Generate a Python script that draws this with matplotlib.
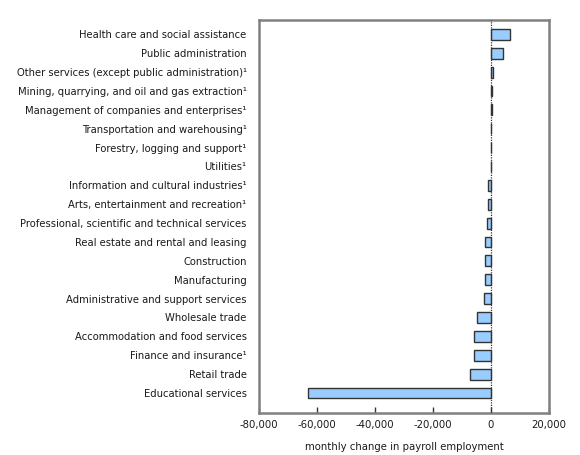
import matplotlib
matplotlib.use("Agg")
import matplotlib.pyplot as plt
from matplotlib.ticker import FuncFormatter

categories = [
    "Health care and social assistance",
    "Public administration",
    "Other services (except public administration)\u00b9",
    "Mining, quarrying, and oil and gas extraction\u00b9",
    "Management of companies and enterprises\u00b9",
    "Transportation and warehousing\u00b9",
    "Forestry, logging and support\u00b9",
    "Utilities\u00b9",
    "Information and cultural industries\u00b9",
    "Arts, entertainment and recreation\u00b9",
    "Professional, scientific and technical services",
    "Real estate and rental and leasing",
    "Construction",
    "Manufacturing",
    "Administrative and support services",
    "Wholesale trade",
    "Accommodation and food services",
    "Finance and insurance\u00b9",
    "Retail trade",
    "Educational services",
]
values = [6700, 4000, 550, 450, 200, 100, 100, -150, -900, -950, -1250,
          -2000, -2000, -2200, -2300, -5000, -5700, -6000, -7100, -63000]
xticks = [-80000, -60000, -40000, -20000, 0, 20000]
xlabel = "monthly change in payroll employment"

plt.rcParams['font.family'] = ['DejaVu Sans']
fig = plt.figure(figsize=(5.8, 4.55), dpi=100)
ax = fig.add_axes([0.4466, 0.0923, 0.5, 0.8637])

pos = list(range(len(categories)))
ax.barh(pos, values, height=0.58, color="#99ccff", edgecolor="#333333", linewidth=1.0, zorder=2)
ax.axvline(0, color="#333333", linestyle=(0, (1, 1)), linewidth=0.9, zorder=3)

ax.set_ylim(len(categories) - 1 + 1.06, -0.76)
ax.set_xlim(-80000, 20000)
ax.set_yticks(pos)
ax.set_yticklabels(categories, fontsize=7.2, color="#1a1a1a")
ax.tick_params(axis='y', length=0, pad=9)
ax.set_xticks(xticks)
ax.xaxis.set_major_formatter(FuncFormatter(lambda v, p: f"{int(v):,}"))
ax.tick_params(axis='x', direction='in', length=4, width=1, color="#333333",
               labelsize=7.3, labelcolor="#1a1a1a", pad=5)
ax.set_xlabel(xlabel, fontsize=7.3, color="#1a1a1a", labelpad=9)
for s in ax.spines.values():
    s.set_color("#808080")
    s.set_linewidth(1.8)

fig.savefig("out.png", dpi=100)
